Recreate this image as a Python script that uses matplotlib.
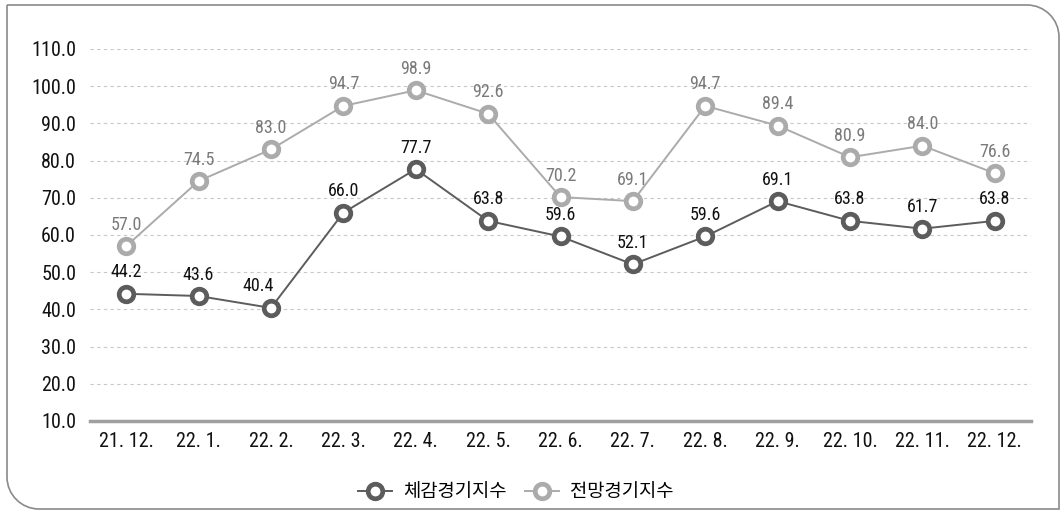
import numpy as np
import matplotlib.pyplot as plt
from matplotlib.path import Path
from matplotlib.patches import PathPatch

# data
months = ['21. 12.', '22. 1.', '22. 2.', '22. 3.', '22. 4.', '22. 5.', '22. 6.',
          '22. 7.', '22. 8.', '22. 9.', '22. 10.', '22. 11.', '22. 12.']
current = [44.2, 43.6, 40.4, 66.0, 77.7, 63.8, 59.6, 52.1, 59.6, 69.1, 63.8, 61.7, 63.8]
outlook = [57.0, 74.5, 83.0, 94.7, 98.9, 92.6, 70.2, 69.1, 94.7, 89.4, 80.9, 84.0, 76.6]
series_names = ['체감경기지수', '전망경기지수']
yticks = np.arange(10, 111, 10)

plt.rcParams['font.family'] = ['Roboto Condensed', 'Noto Sans CJK KR', 'DejaVu Sans']

W, H = 1061, 512
fig = plt.figure(figsize=(W / 100, H / 100), dpi=100)
ax = fig.add_axes([90 / W, 1 - 421 / H, 941 / W, 372 / H])

x = np.arange(len(months))
dark, light = '#5c5c5c', '#ababab'
ax.plot(x, outlook, color=light, lw=1.4, marker='o', ms=10.5, mew=3.4,
        mfc='white', mec=light, label=series_names[1], zorder=3)
ax.plot(x, current, color=dark, lw=1.4, marker='o', ms=10.5, mew=3.4,
        mfc='white', mec=dark, label=series_names[0], zorder=4)

# value labels above the markers
for xi, v in zip(x, outlook):
    ax.annotate(f'{v:.1f}', (xi, v), xytext=(0, 9), textcoords='offset points',
                ha='center', va='bottom', fontsize=13, color='#7a7a7a')
for xi, v in zip(x, current):
    dx = -9 if xi == 2 else 0  # 40.4 sits left of the rising line
    ax.annotate(f'{v:.1f}', (xi, v), xytext=(dx, 9), textcoords='offset points',
                ha='center', va='bottom', fontsize=13, color='#111111')

ax.set_xlim(-0.5, len(months) - 0.5)
ax.set_ylim(10, 110)
ax.set_yticks(yticks)
ax.set_yticklabels([f'{t:.1f}' for t in yticks])
ax.set_xticks(x)
ax.set_xticklabels(months)
ax.tick_params(axis='both', length=0, labelsize=14.5, colors='#111111')
ax.tick_params(axis='y', pad=10)
ax.tick_params(axis='x', pad=8)
ax.grid(axis='y', ls=(0, (3, 3)), color='#c8c8c8', lw=0.8)
for s in ['top', 'right', 'left']:
    ax.spines[s].set_visible(False)
ax.spines['bottom'].set_color('#a0a0a0')
ax.spines['bottom'].set_linewidth(2.5)
ax.set_facecolor('none')

handles, labels = ax.get_legend_handles_labels()
fig.legend(handles[::-1], labels[::-1], loc='center', bbox_to_anchor=(516 / W, 1 - 492 / H),
           ncol=2, frameon=False, handlelength=1.8, handletextpad=0.6, columnspacing=1.0,
           prop={'family': ['Noto Sans CJK KR', 'DejaVu Sans'], 'size': 13.5})

# outer frame with rounded top-right and bottom-left corners
L, T, R, B, r = 7, 5, 1059, 509, 32
k = 0.5523
pts = [(L, T), (R - r, T), (R - r + k * r, T), (R, T + r - k * r), (R, T + r),
       (R, B), (L + r, B), (L + r - k * r, B), (L, B - r + k * r), (L, B - r), (L, T)]
codes = [Path.MOVETO, Path.LINETO, Path.CURVE4, Path.CURVE4, Path.CURVE4,
         Path.LINETO, Path.LINETO, Path.CURVE4, Path.CURVE4, Path.CURVE4, Path.LINETO]
pts = [(px / W, 1 - py / H) for px, py in pts]
frame = PathPatch(Path(pts, codes), transform=fig.transFigure, fill=False,
                  ec='#8a8a8a', lw=1.2, clip_on=False)
fig.add_artist(frame)

fig.savefig('out.png', dpi=100)
